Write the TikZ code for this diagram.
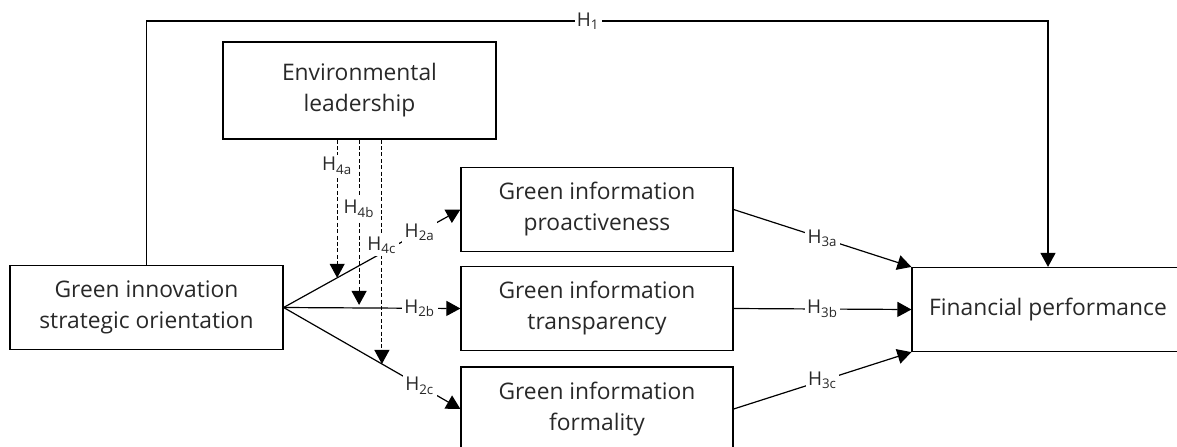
\documentclass[tikz,border=0pt]{standalone}
\usepackage{fontspec}
\setmainfont{Open Sans}
\usepackage{tikz}
\usetikzlibrary{arrows.meta}
\definecolor{ctexte}{RGB}{40,40,40}

\begin{document}
\begin{tikzpicture}[x=0.5pt, y=-0.5pt, >={Triangle[length=7pt,width=7.5pt]},
  boite/.style={draw, line width=0.6pt, align=center, inner sep=0pt, text=ctexte,
    minimum width=136pt, minimum height=42pt, font=\fontsize{11.4}{15.5}\selectfont},
  hyp/.style={fill=white, inner sep=1.2pt, text=ctexte, font=\fontsize{9.5}{10}\selectfont},
  lien/.style={line width=0.6pt},
  pointille/.style={line width=0.5pt, dash pattern=on 2pt off 1.2pt}]
\clip (0,0) rectangle (1177,446);
\node[boite, minimum width=136.5pt] (gi) at (146.5,307.5) {Green innovation\\strategic orientation};
\node[boite, minimum width=136.5pt, minimum height=48.5pt] (el) at (359.5,90.5) {Environmental\\leadership};
\node[boite] (gip) at (597,209.5) {Green information\\proactiveness};
\node[boite] (git) at (597,308.5) {Green information\\transparency};
\node[boite] (gif) at (597,409) {Green information\\formality};
\node[boite] (fp) at (1048,309.5) {Financial performance};
\draw[lien,->] (gi.north) -- (gi.north |- 0,21) -| node[hyp, pos=0.245] {H\textsubscript{1}} (fp.north);
\draw[lien,->] (gi.east) -- node[hyp, pos=0.77] {H\textsubscript{2a}} (gip.west);
\draw[lien,->] (gi.east) -- node[hyp, pos=0.77] {H\textsubscript{2b}} (git.west);
\draw[lien,->] (gi.east) -- node[hyp, pos=0.77] {H\textsubscript{2c}} (gif.west);
\draw[lien,->] (gip.east) -- node[hyp] {H\textsubscript{3a}} (fp.north west);
\draw[lien,->] (git.east) -- node[hyp] {H\textsubscript{3b}} (fp.west);
\draw[lien,->] (gif.east) -- node[hyp] {H\textsubscript{3c}} (fp.south west);
\path (gi.east) -- (gip.west) coordinate[pos=0.303] (t4a);
\path (gi.east) -- (git.west) coordinate[pos=0.427] (t4b);
\path (gi.east) -- (gif.west) coordinate[pos=0.556] (t4c);
\draw[pointille,->] (el.south -| t4a) -- node[hyp, pos=0.19] {H\textsubscript{4a}} (t4a);
\draw[pointille,->, shorten >=1.5pt] (el.south -| t4b) -- node[hyp, pos=0.41] {H\textsubscript{4b}} (t4b);
\draw[pointille,->] (el.south -| t4c) -- node[hyp, pos=0.47] {H\textsubscript{4c}} (t4c);
\end{tikzpicture}
\end{document}
